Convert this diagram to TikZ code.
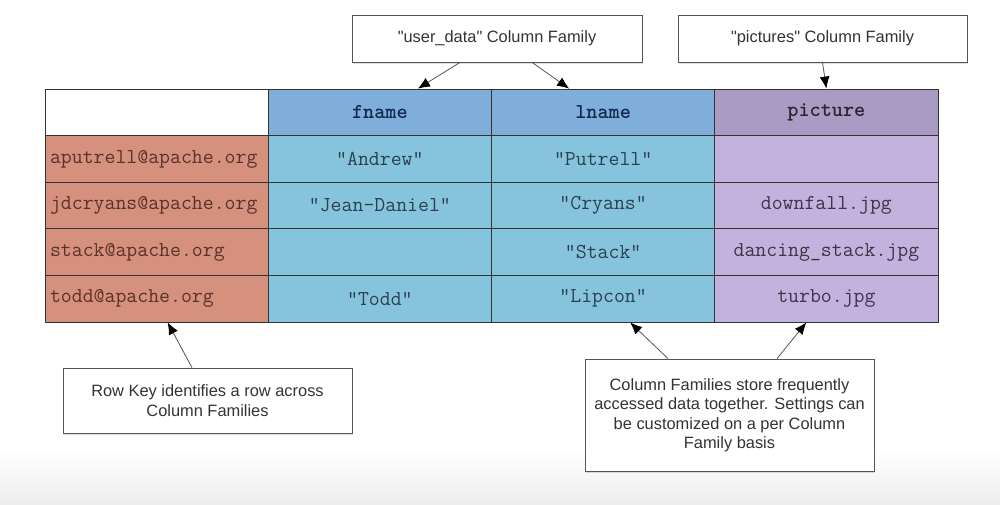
\documentclass[tikz,border=0pt]{standalone}
\usepackage{fontspec}
\setmainfont{Liberation Sans}
\usetikzlibrary{arrows.meta,shadows}
\definecolor{keyred}{HTML}{D6907E}
\definecolor{hdrblue}{HTML}{7FAEDB}
\definecolor{cellblue}{HTML}{86C4DE}
\definecolor{hdrpurple}{HTML}{A99BC3}
\definecolor{cellpurple}{HTML}{C4B2DE}
\definecolor{tableline}{HTML}{333333}
\definecolor{boxline}{HTML}{555555}
\definecolor{textgray}{HTML}{333333}
\definecolor{keytext}{HTML}{5A3228}
\definecolor{bluetext}{HTML}{2C4050}
\definecolor{hdrtext}{HTML}{142850}
\definecolor{purpletext}{HTML}{3C3448}
\begin{document}
\begin{tikzpicture}[x=1pt,y=-1pt,
  cell/.style={draw=tableline, line width=0.8pt, minimum width=223.25pt, minimum height=46.6pt,
    inner sep=0pt, font=\ttfamily\fontsize{21.2}{24}\selectfont},
  keycell/.style={cell, fill=keyred, text=keytext, text width=213.25pt, inner xsep=5pt, align=left},
  bluecell/.style={cell, fill=cellblue, text=bluetext},
  bluehdr/.style={cell, fill=hdrblue, text=hdrtext, font=\ttfamily\bfseries\fontsize{21.2}{24}\selectfont},
  purplecell/.style={cell, fill=cellpurple, text=purpletext},
  purplehdr/.style={cell, fill=hdrpurple, text=purpletext!70!black, font=\ttfamily\bfseries\fontsize{21.2}{24}\selectfont},
  callout/.style={draw=boxline, fill=white, line width=0.8pt, text=textgray, inner sep=0pt,
    font=\fontsize{16.4}{19.5}\selectfont, align=center,
    drop shadow={opacity=0.25, shadow xshift=1pt, shadow yshift=-2pt}},
  arr/.style={draw=boxline, line width=0.8pt, -{Latex[length=12pt, width=10pt, fill=black, color=black]}}
]
\useasboundingbox (0,0) rectangle (1000,504);
\fill[white] (0,0) rectangle (1000,504);
\shade[top color=white, bottom color=black!7] (0,450) rectangle (1000,504);

% header row
\node[cell, fill=white] (corner) at (156.625,112.3) {};
\node[bluehdr] (fname) at (379.875,112.3) {fname};
\node[bluehdr] (lname) at (603.125,112.3) {lname};
\node[purplehdr] (pic) at (826.375,112.3) {picture};

% row 1
\node[keycell] (k1) at (156.625,158.9) {aputrell@apache.org};
\node[bluecell] (f1) at (379.875,158.9) {"Andrew"};
\node[bluecell] (l1) at (603.125,158.9) {"Putrell"};
\node[purplecell] (p1) at (826.375,158.9) {};

% row 2
\node[keycell] (k2) at (156.625,205.5) {jdcryans@apache.org};
\node[bluecell] (f2) at (379.875,205.5) {"Jean-Daniel"};
\node[bluecell] (l2) at (603.125,205.5) {"Cryans"};
\node[purplecell] (p2) at (826.375,205.5) {downfall.jpg};

% row 3
\node[keycell] (k3) at (156.625,252.1) {stack@apache.org};
\node[bluecell] (f3) at (379.875,252.1) {};
\node[bluecell] (l3) at (603.125,252.1) {"Stack"};
\node[purplecell] (p3) at (826.375,252.1) {dancing\_stack.jpg};

% row 4
\node[keycell] (k4) at (156.625,298.7) {todd@apache.org};
\node[bluecell] (f4) at (379.875,298.7) {"Todd"};
\node[bluecell] (l4) at (603.125,298.7) {"Lipcon"};
\node[purplecell] (p4) at (826.375,298.7) {turbo.jpg};

% callouts
\node[callout, minimum width=290pt, minimum height=47pt] (ud) at (497,38.5) {\textquotedbl user\_data\textquotedbl{} Column Family};
\node[callout, minimum width=289pt, minimum height=47pt] (pc) at (822.5,38.5) {\textquotedbl pictures\textquotedbl{} Column Family};
\node[callout, minimum width=289pt, minimum height=65pt] (rk) at (207.5,400.5) {Row Key identifies a row across\\Column Families};
\node[callout, minimum width=289pt, minimum height=112pt] (cf) at (729.5,415) {Column Families store frequently\\accessed data together. Settings can\\be customized on a per Column\\Family basis};

% arrows
\draw[arr] ([xshift=-37pt]ud.south) -- ([xshift=38pt]fname.north);
\draw[arr] ([xshift=35pt]ud.south) -- ([xshift=-34pt]lname.north);
\draw[arr] (pc.south) -- (pic.north);
\draw[arr] ([xshift=-15.5pt]rk.north) -- ([xshift=11pt]k4.south);
\draw[arr] ([xshift=-61.5pt]cf.north) -- ([xshift=27pt]l4.south);
\draw[arr] ([xshift=47.5pt]cf.north) -- ([xshift=-20pt]p4.south);
\end{tikzpicture}
\end{document}
